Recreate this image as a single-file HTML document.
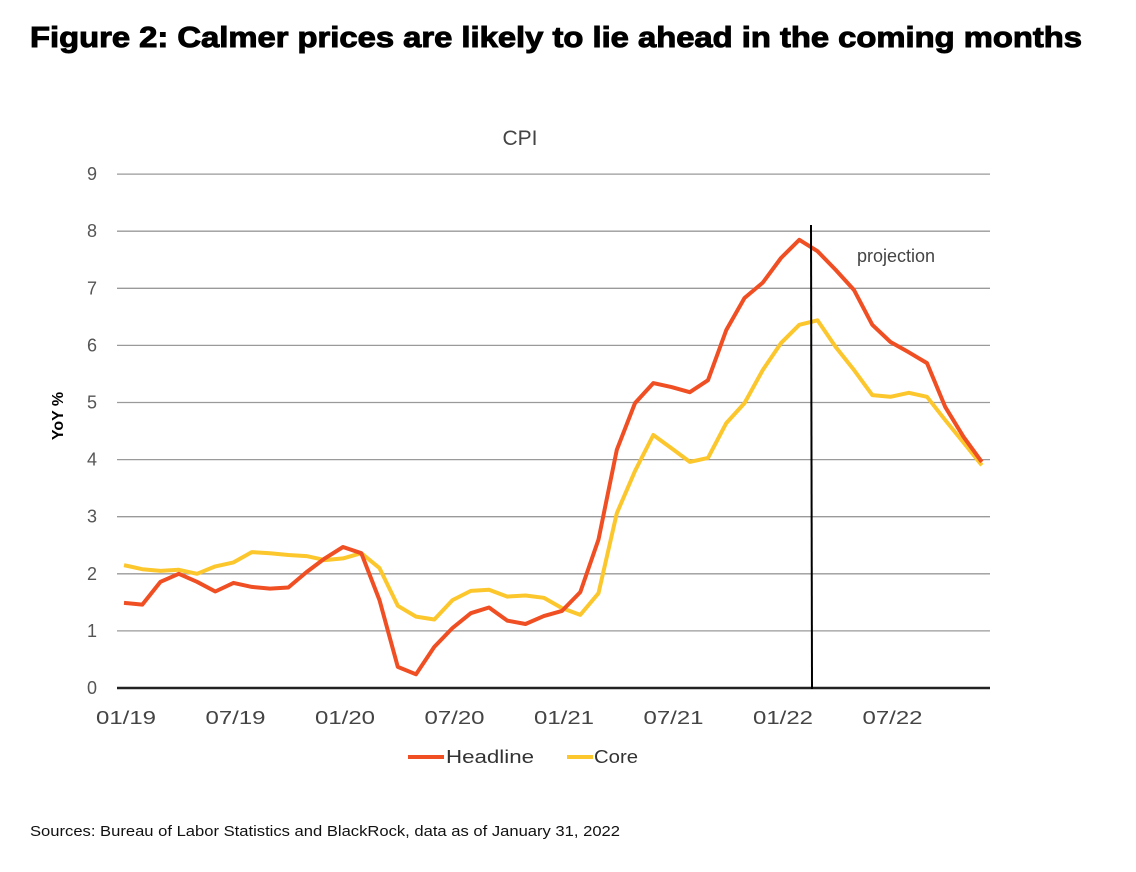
<!DOCTYPE html>
<html><head><meta charset="utf-8"><style>
html,body{margin:0;padding:0;background:#fff;}
svg{display:block;font-family:"Liberation Sans",sans-serif;}
</style></head><body>
<svg id="chart" width="1136" height="872" viewBox="0 0 1136 872">
<text x="30" y="47" font-size="29" font-weight="900" fill="#000" stroke="#000" stroke-width="1" textLength="1052" lengthAdjust="spacingAndGlyphs">Figure 2: Calmer prices are likely to lie ahead in the coming months</text>
<text x="520" y="145" font-size="21" fill="#444" text-anchor="middle">CPI</text>
<text transform="translate(63,416) rotate(-90)" font-size="16" font-weight="bold" fill="#000" text-anchor="middle">YoY %</text>
<g id="grid"></g><g id="yticks"></g><g id="xticks"></g><g id="series"></g>
<line x1="811" y1="225" x2="812" y2="689" stroke="#000" stroke-width="2"/>
<text x="857" y="262" font-size="18" fill="#444">projection</text>
<g>
<line x1="408" y1="757" x2="444" y2="757" stroke="#f04e23" stroke-width="4"/>
<text x="446" y="763" font-size="18" fill="#333" textLength="88" lengthAdjust="spacingAndGlyphs">Headline</text>
<line x1="567" y1="757" x2="593" y2="757" stroke="#fcc72c" stroke-width="4"/>
<text x="594" y="763" font-size="18" fill="#333" textLength="44" lengthAdjust="spacingAndGlyphs">Core</text>
</g>
<text x="30" y="836" font-size="15" fill="#111" textLength="590" lengthAdjust="spacingAndGlyphs">Sources: Bureau of Labor Statistics and BlackRock, data as of January 31, 2022</text>
</svg>
<script>
const yTicks=[0,1,2,3,4,5,6,7,8,9];
const xTickLabels=["01/19","07/19","01/20","07/20","01/21","07/21","01/22","07/22"];
const xTickIdx=[0,6,12,18,24,30,36,42];
const headline=[1.49,1.46,1.86,2.0,1.86,1.69,1.84,1.77,1.74,1.76,2.03,2.27,2.47,2.36,1.54,0.37,0.24,0.72,1.05,1.31,1.41,1.18,1.12,1.26,1.35,1.68,2.6,4.17,4.99,5.34,5.27,5.18,5.39,6.27,6.83,7.1,7.53,7.85,7.65,7.32,6.97,6.36,6.06,5.88,5.69,4.92,4.4,3.96];
const core=[2.15,2.08,2.05,2.07,2.0,2.13,2.2,2.38,2.36,2.33,2.31,2.24,2.27,2.36,2.1,1.44,1.25,1.2,1.54,1.7,1.72,1.6,1.62,1.58,1.4,1.28,1.66,3.06,3.8,4.43,4.2,3.96,4.03,4.64,4.99,5.57,6.04,6.36,6.44,5.97,5.57,5.13,5.1,5.17,5.1,4.69,4.3,3.9];
const NS="http://www.w3.org/2000/svg";
const xS=i=>124+i*18.25;
const yS=v=>688-v*57.1;
function mk(tag,attrs,parent){const e=document.createElementNS(NS,tag);for(const k in attrs)e.setAttribute(k,attrs[k]);document.getElementById(parent).appendChild(e);return e;}
yTicks.forEach(v=>{
  if(v>0){const g=mk('line',{x1:117,x2:990,y1:yS(v),y2:yS(v),stroke:'#9a9a9a','stroke-width':1.3},'grid');
  
  }
  const t=mk('text',{x:97,y:yS(v)+6,'font-size':18,fill:'#555','text-anchor':'end'},'yticks');t.textContent=v;
  
  
});
const ax=mk('line',{x1:117,x2:990,y1:688,y2:688,stroke:'#222','stroke-width':2.5},'grid');


xTickLabels.forEach((l,k)=>{
  const t=mk('text',{x:xS(xTickIdx[k])+2,y:724,'font-size':18,fill:'#444','text-anchor':'middle',textLength:60,lengthAdjust:'spacingAndGlyphs'},'xticks');t.textContent=l;
  
  
});
function line(data,color,name){
  const p=mk('path',{d:data.map((v,i)=>(i?'L':'M')+xS(i).toFixed(1)+','+yS(v).toFixed(1)).join(''),fill:'none',stroke:color,'stroke-width':4,'stroke-linejoin':'round'},'series');
  
  
}
line(core,'#fcc72c','core-line');
line(headline,'#f04e23','headline-line');
</script>
</body></html>
